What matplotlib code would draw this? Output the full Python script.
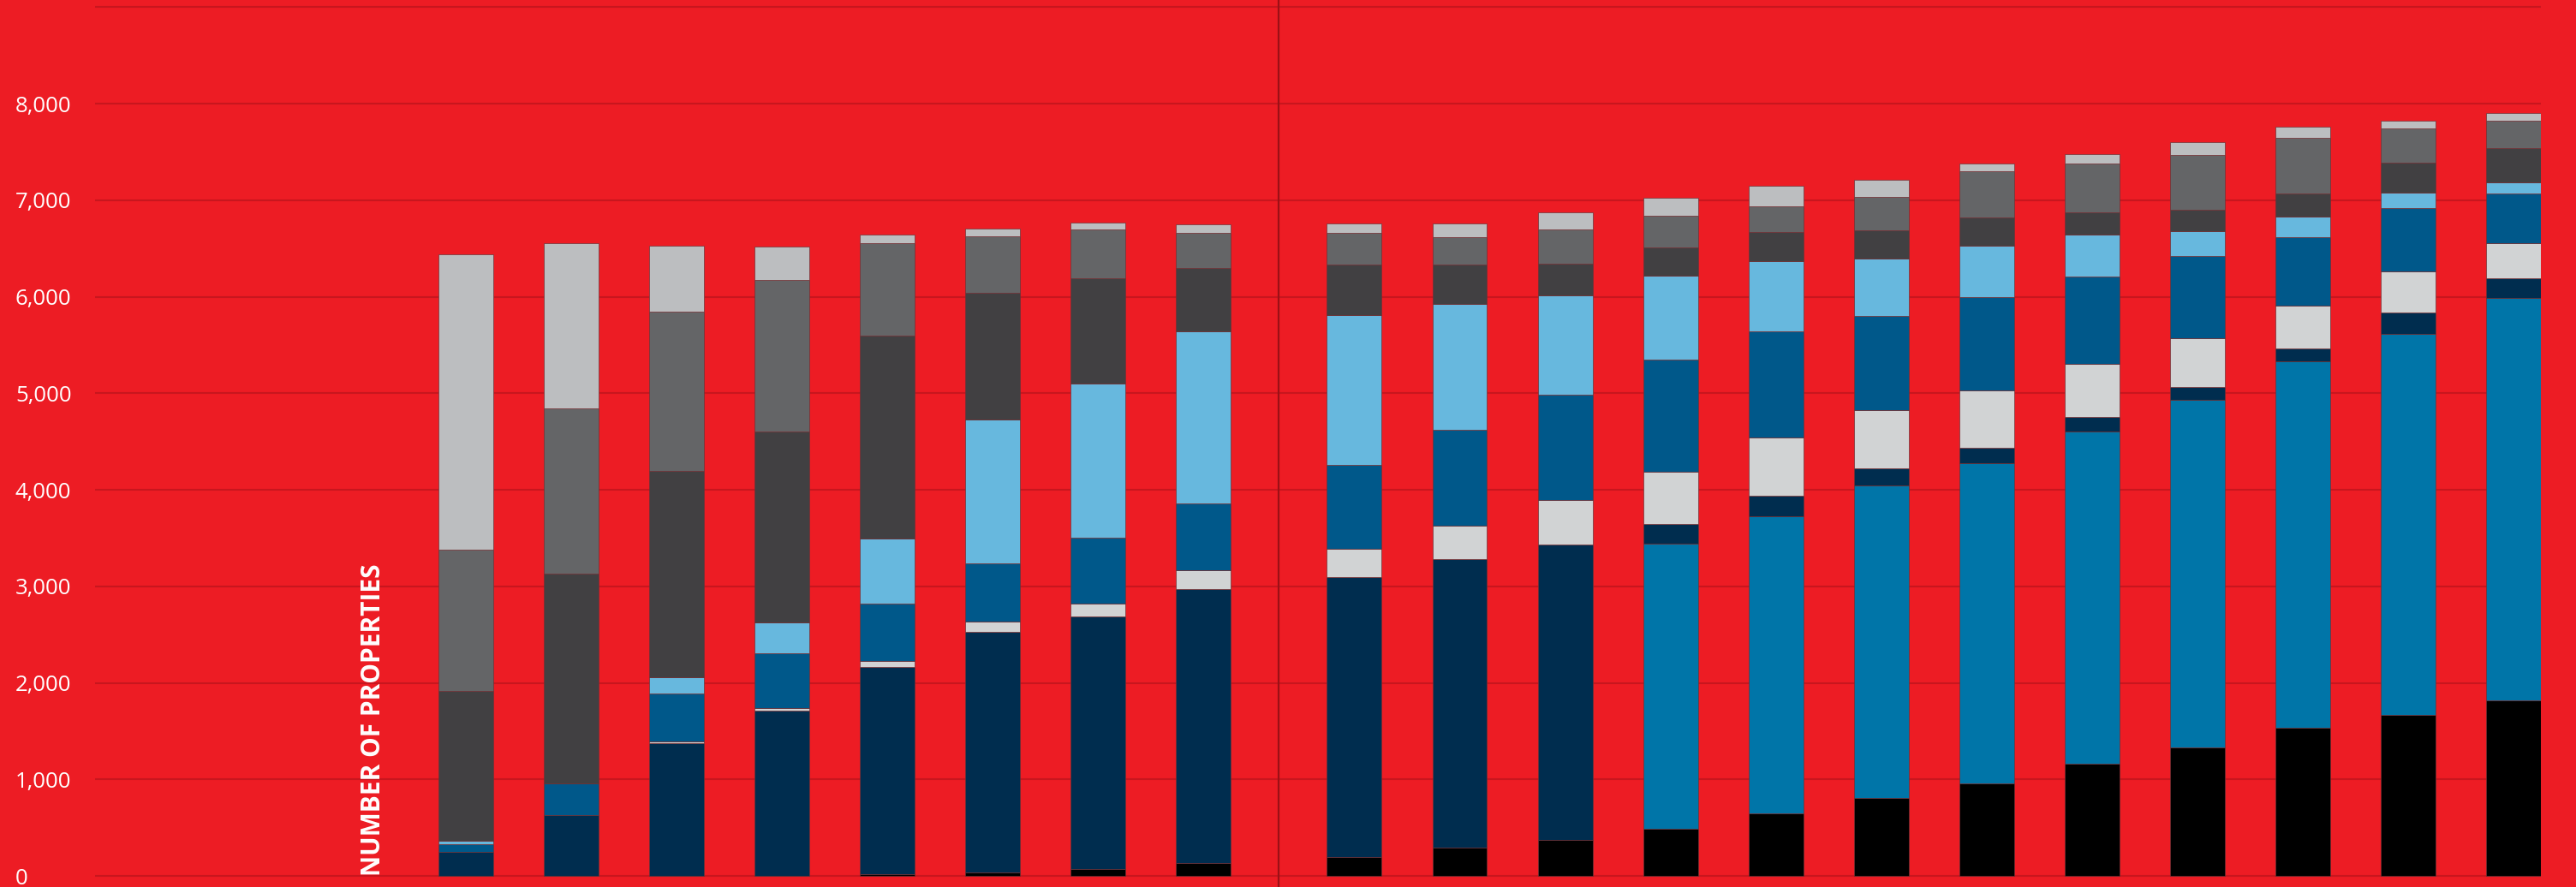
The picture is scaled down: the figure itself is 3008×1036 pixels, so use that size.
import numpy as np
import matplotlib
matplotlib.use('Agg')
from matplotlib import pyplot as plt

plt.rcParams['font.family'] = ['Open Sans', 'DejaVu Sans']

# stacked segments, bottom to top, one value per bar (8 bars left of divider, 12 right)
black      = [0, 0, 0, 0, 23, 41, 76, 135, 199, 293, 375, 486, 645, 809, 961, 1160, 1330, 1536, 1665, 1817]
mid_blue   = [0, 0, 0, 0, 0, 0, 0, 0, 0, 0, 0, 2960, 3083, 3235, 3312, 3441, 3599, 3792, 3950, 4167]
navy       = [246, 633, 1378, 1717, 2146, 2485, 2608, 2837, 2901, 2989, 3060, 200, 211, 182, 158, 152, 135, 134, 217, 211]
pale_grey  = [0, 0, 12, 24, 58, 106, 141, 199, 293, 346, 463, 539, 603, 603, 598, 551, 510, 446, 428, 358]
dark_blue  = [84, 322, 498, 568, 598, 603, 680, 686, 868, 990, 1090, 1160, 1096, 968, 967, 903, 844, 709, 656, 515]
light_blue = [35, 0, 170, 317, 668, 1489, 1594, 1781, 1547, 1307, 1025, 874, 733, 597, 533, 434, 264, 211, 158, 118]
dark_grey  = [1552, 2181, 2139, 1975, 2104, 1313, 1090, 663, 528, 405, 329, 293, 299, 293, 293, 234, 222, 240, 317, 351]
mid_grey   = [1465, 1711, 1647, 1576, 961, 586, 504, 363, 322, 287, 351, 328, 264, 346, 475, 504, 563, 575, 351, 287]
light_grey = [3053, 1706, 686, 340, 83, 82, 77, 88, 100, 141, 182, 181, 216, 176, 82, 100, 135, 117, 77, 77]

n_left = 8
y_ticks = list(range(0, 9001, 1000))
y_labels = ['{:,}'.format(v) for v in y_ticks[:-1]] + ['']
axis_title = 'NUMBER OF PROPERTIES'

series = [black, mid_blue, navy, pale_grey, dark_blue, light_blue, dark_grey, mid_grey, light_grey]
colors = ['#000000', '#0075a8', '#002d4f', '#d1d3d4', '#00588a', '#67b8de', '#414042', '#646567', '#bcbec0']

red = '#ed1c24'
n = len(black)
gap = 1.434
x = np.arange(n) + np.where(np.arange(n) >= n_left, gap - 1, 0)

fig = plt.figure(figsize=(30.08, 10.36), dpi=100, facecolor=red)
ax = fig.add_axes([111/3008, 0, (2967-111)/3008, 1])
ax.set_facecolor(red)

bottom = np.zeros(n)
for vals, c in zip(series, colors):
    vals = np.array(vals, dtype=float)
    ax.bar(x, vals, width=0.52, bottom=bottom, color=c, edgecolor='#6e3236', linewidth=0.5, zorder=3)
    bottom += vals

divider = (x[n_left - 1] + x[n_left]) / 2
ax.axvline(divider, color='#9c1016', linewidth=1.6, zorder=4)

ax.set_xlim(-3.516, x[-1] + 0.26)
ax.set_ylim(-114, 9073)
ax.set_yticks(y_ticks)
ax.set_yticklabels(y_labels)
ax.set_xticks([])
ax.grid(True, axis='y', color='#c8161e', linewidth=1.5, zorder=0)
ax.set_axisbelow(True)
for s in ax.spines.values():
    s.set_visible(False)
ax.tick_params(axis='y', length=0, pad=67, labelsize=18.5, labelcolor='white')
for lab in ax.get_yticklabels():
    lab.set_horizontalalignment('left')

ax.text(-0.874, 0, axis_title, rotation=90, ha='center', va='bottom',
        color='white', fontsize=21.5, fontweight='bold', zorder=5)

fig.savefig('out.png', dpi=100, facecolor=red)
